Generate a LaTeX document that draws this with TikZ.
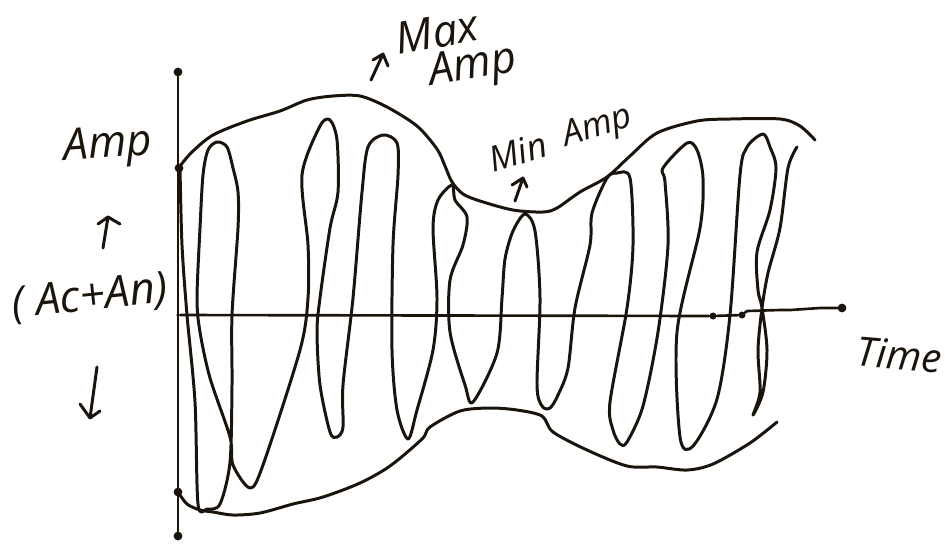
\documentclass[tikz,border=0pt]{standalone}
\usepackage{fontspec}
\setmainfont{Open Sans}
\usepackage{xcolor}
\definecolor{inkdark}{HTML}{1A140C}
\begin{document}
\begin{tikzpicture}[
    x=0.02cm, y=-0.02cm,
    pen/.style    = {color=inkdark, line width=1.7pt, line cap=round, line join=round},
    thinpen/.style = {color=inkdark, line width=1.5pt, line cap=round, line join=round},
    dot/.style    = {circle, fill=inkdark, inner sep=0pt, minimum size=5pt},
    hand/.style   = {color=inkdark, font=\fontsize{25}{27}\selectfont\itshape, inner sep=0pt},
  ]
  \useasboundingbox (0,0) rectangle (945,549);

  %% Axes
  \node[dot] (ytop) at (178,72) {};
  \node[dot] (ybot) at (178,536) {};
  \node[dot, minimum size=2pt] (orig) at (178,315) {};
  \node[dot, minimum size=4pt] (tmid) at (713,316) {};
  \node[dot, minimum size=4pt] (tgap) at (742,315) {};
  \node[dot] (xend) at (842,308) {};
  \draw[thinpen] (ytop) -- (ybot);
  \draw[thinpen] (orig) -- (tmid) -- (tgap);
  \draw[thinpen] (tgap) -- (747,311) -- (780,310) -- (790,310) -- (820,308) -- (xend);

  %% Envelope
  \node[dot] (envtop) at (179,168) {};
  \node[dot] (envbot) at (178,492) {};
  \draw[pen] plot[smooth, tension=0.5] coordinates {(180,166) (192,152) (213,135) (247,121)
    (280,111) (307,100) (333,96) (360,96) (387,107) (417,126) (437,149) (445,166) (452,182)
    (463,194) (480,201) (513,210) (543,212) (557,208) (580,192) (607,177) (630,156) (657,133)
    (697,121) (730,119) (780,119) (800,126) (815,140)};
  \draw[pen] plot[smooth, tension=0.5] coordinates {(178,492) (187,504) (200,510) (213,512)
    (233,515) (260,513) (293,504) (323,497) (360,483) (390,466) (422,439) (430,427) (460,411)
    (490,408) (517,410) (542,416) (553,432) (587,450) (627,466) (657,467) (687,470) (713,464)
    (750,443) (777,422)};

  %% Carrier
  \draw[pen] plot[smooth, tension=0.5] coordinates {(180,168) (182,245) (187,315) (195,402)
    (198,504) (207,509) (220,504) (230,462) (232,385) (232,315) (238,228) (238,192) (233,168)
    (227,147) (217,142) (208,150) (203,175) (200,228) (197,298) (200,332) (210,378) (230,437)
    (233,465) (250,488) (263,465) (300,350) (308,298) (308,245) (302,175) (320,126) (330,120)
    (337,140) (338,192) (330,228) (320,298) (317,332) (320,385) (330,432) (337,437) (343,427)
    (343,385) (353,298) (362,192) (368,147) (383,135) (397,143) (398,175) (393,245) (392,350)
    (397,410) (408,439) (417,410) (433,350) (437,298) (433,228) (438,200) (452,185) (455,200)
    (467,217) (463,245) (450,280) (450,332) (465,385) (473,402) (497,353) (502,298) (505,259)
    (513,231) (525,214) (535,231) (540,298) (537,385) (542,406) (550,408) (558,395) (568,368)
    (575,308) (590,245) (592,213) (607,178) (617,173) (630,178) (633,245) (627,308) (610,402)
    (613,430) (620,444) (627,442) (643,406) (658,332) (668,245) (665,182) (663,168) (687,143)
    (697,150) (703,178) (700,228) (677,332) (680,437) (693,446) (717,399) (730,315) (740,175)
    (747,147) (763,134) (770,147) (776,168) (770,210) (757,252) (758,290) (762,308) (767,350)
    (763,392) (753,415) (760,392) (758,350) (762,308) (768,273) (780,228) (788,168) (797,147)};

  %% Labels
  \node[hand, rotate=4] (ampl) at (108,147) {Amp};
  \node[hand, rotate=6] (acan) at (90,298) {( Ac+An)};
  \node[hand, rotate=10] (maxl) at (437,32) {Max};
  \node[hand, rotate=10] (maxa) at (473,68) {Amp};
  \node[hand, rotate=17, font=\fontsize{20}{22}\selectfont\itshape] (minl) at (518,152) {Min};
  \node[hand, rotate=17, font=\fontsize{20}{22}\selectfont\itshape] (mina) at (598,128) {Amp};
  \node[hand, rotate=-5, font=\fontsize{23}{25}\selectfont\itshape] (timel) at (899,355) {Time};

  %% Small arrows
  \draw[pen] (103,248) -- (108,217) (98,224) -- (108,217) -- (120,224);
  \draw[pen] (97,367) -- (90,418) (80,404) -- (90,418) -- (100,411);
  \draw[pen] (371,80) -- (383,54) (373,60) -- (383,54) -- (388,66);
  \draw[pen] (515,201) -- (523,178) (512,185) -- (523,178) -- (527,187);

\end{tikzpicture}
\end{document}
